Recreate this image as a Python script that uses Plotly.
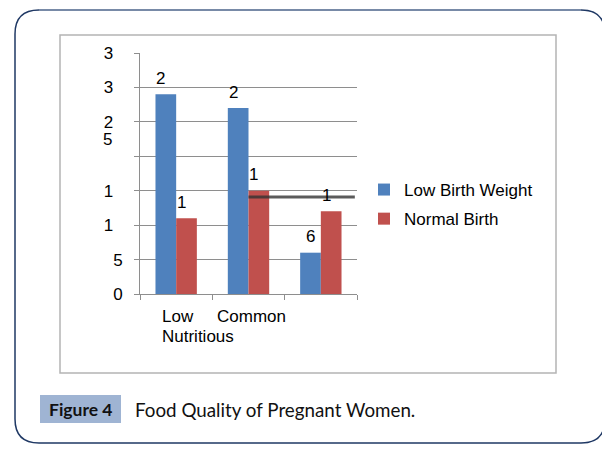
import plotly.graph_objects as go

# ---------------- data ----------------
categories = ["Low Nutritious", "Common", " "]
low_birth_weight = [29, 27, 6]
normal_birth = [11, 15, 12]
series_names = ["Low Birth Weight", "Normal Birth"]
y_tick_values = [0, 5, 10, 15, 20, 25, 30, 35]
y_tick_labels = ["0", "5", "1", "1", "", "2", "3", "3"]   # truncated labels as shown
y_wrapped_value = 25        # the "25" label wraps: its "5" falls on a second line
y_wrapped_rest = "5"
stray_line_y = 14.1         # the stray dark horizontal line in the original
stray_line_x = [1.0, 2.47]

W, H = 610, 450
OX, OY = 8, 8               # page body margin of the browser
def px(x):
    return (x - OX) / W
def py(y):
    return 1 - (y - OY) / H

BLUE = "#4f81bd"
RED = "#c0504d"
GRID = "#8e8e8e"
FONT = "Liberation Sans, Arial, sans-serif"
CAPFONT = "Lato, Open Sans, sans-serif"
NB = "&nbsp;&nbsp;"

def trunc_label(v):
    s = str(v)
    return s[0] + (NB if len(s) > 1 else "")

fig = go.Figure()
fig.add_trace(go.Bar(x=categories, y=low_birth_weight, name=series_names[0],
                     marker=dict(color=BLUE, line=dict(width=0)),
                     legendgroup="a"))
fig.add_trace(go.Bar(x=categories, y=normal_birth, name=series_names[1],
                     marker=dict(color=RED, line=dict(width=0)),
                     legendgroup="b"))

bargap = 0.428
half = (1 - bargap) / 4
lab_font = dict(family=FONT, size=17, color="#000")
annotations = []
for i, v in enumerate(low_birth_weight):
    annotations.append(dict(x=i - half, y=v, xref="x", yref="y", text=trunc_label(v),
                            showarrow=False, yanchor="middle", yshift=16, font=lab_font))
for i, v in enumerate(normal_birth):
    annotations.append(dict(x=i + half, y=v, xref="x", yref="y", text=trunc_label(v),
                            showarrow=False, yanchor="middle", yshift=16, font=lab_font))

# second line of the wrapped "25" tick label
annotations.append(dict(x=px(124), y=y_wrapped_value, xref="paper", yref="y",
                        text=y_wrapped_rest + NB, showarrow=False,
                        xanchor="right", yanchor="middle", yshift=-18, font=lab_font))

# category text as it appears
for txt, x0, y0 in [("Low", 161, 316), ("Nutritious", 161, 336), ("Common", 216, 316)]:
    annotations.append(dict(x=px(x0), y=py(y0), xref="paper", yref="paper",
                            text=txt, showarrow=False, borderpad=0,
                            xanchor="left", yanchor="middle", font=lab_font))
# caption
annotations.append(dict(x=px(80.5), y=py(409), xref="paper", yref="paper",
                        text="<b>Figure 4</b>", showarrow=False,
                        xanchor="center", yanchor="middle",
                        font=dict(family=CAPFONT, size=17.5, color="#111")))
annotations.append(dict(x=px(133), y=py(409), xref="paper", yref="paper",
                        text="Food Quality of Pregnant Women.", showarrow=False,
                        xanchor="left", yanchor="middle",
                        font=dict(family=CAPFONT, size=18.8, color="#111")))

r = 24
L, T, R, B = 15, 10, 605, 443
outer = (f"M {px(L+r)},{py(T)} L {px(R-r)},{py(T)} Q {px(R)},{py(T)} {px(R)},{py(T+r)} "
         f"L {px(R)},{py(B-r)} Q {px(R)},{py(B)} {px(R-r)},{py(B)} "
         f"L {px(L+r)},{py(B)} Q {px(L)},{py(B)} {px(L)},{py(B-r)} "
         f"L {px(L)},{py(T+r)} Q {px(L)},{py(T)} {px(L+r)},{py(T)} Z")

shapes = [
    dict(type="path", path=outer, xref="paper", yref="paper",
         line=dict(color="#1f3864", width=1.5)),
    dict(type="line", xref="paper", yref="paper", x0=px(L+r), x1=px(R-r), y0=py(T), y1=py(T),
         line=dict(color="#8496b0", width=1.5)),
    dict(type="rect", xref="paper", yref="paper", x0=px(60), x1=px(556), y0=py(35), y1=py(373),
         line=dict(color="#b4b4b4", width=1.5)),
    dict(type="rect", xref="paper", yref="paper", x0=px(40), x1=px(121), y0=py(395), y1=py(423),
         fillcolor="#9fb4d3", line=dict(width=0), layer="below"),
    dict(type="line", xref="x", yref="y", x0=stray_line_x[0], x1=stray_line_x[1],
         y0=stray_line_y, y1=stray_line_y,
         line=dict(color="rgba(50,50,50,0.8)", width=3)),
]

fig.update_layout(
    width=W, height=H,
    margin=dict(l=0, r=0, t=0, b=0, pad=0),
    paper_bgcolor="white", plot_bgcolor="white",
    barmode="group", bargap=bargap, bargroupgap=0,
    font=dict(family=FONT, size=17, color="#000"),
    xaxis=dict(domain=[px(140), px(357)], type="category", range=[-0.5, 2.5],
               showline=True, linecolor=GRID, linewidth=1,
               ticks="outside", tickson="boundaries", ticklen=5, tickcolor=GRID,
               showticklabels=False, showgrid=False, zeroline=False,
               automargin=False, fixedrange=True),
    yaxis=dict(domain=[py(294), py(53)], range=[0, 35],
               tickvals=y_tick_values,
               ticktext=[t + NB if (t and v >= 10) else t
                         for t, v in zip(y_tick_labels, y_tick_values)],
               showline=True, linecolor=GRID, linewidth=1,
               ticks="outside", ticklen=5, tickcolor=GRID,
               ticklabelstandoff=8,
               showgrid=True, gridcolor=GRID, gridwidth=1, zeroline=False,
               tickfont=lab_font, automargin=False, fixedrange=True),
    showlegend=True,
    legend=dict(x=px(364), y=py(172), xanchor="left", yanchor="top",
                font=lab_font,
                traceorder="grouped", tracegroupgap=4, bgcolor="rgba(0,0,0,0)"),
    annotations=annotations,
    shapes=shapes,
)

fig.write_html("out.html")
